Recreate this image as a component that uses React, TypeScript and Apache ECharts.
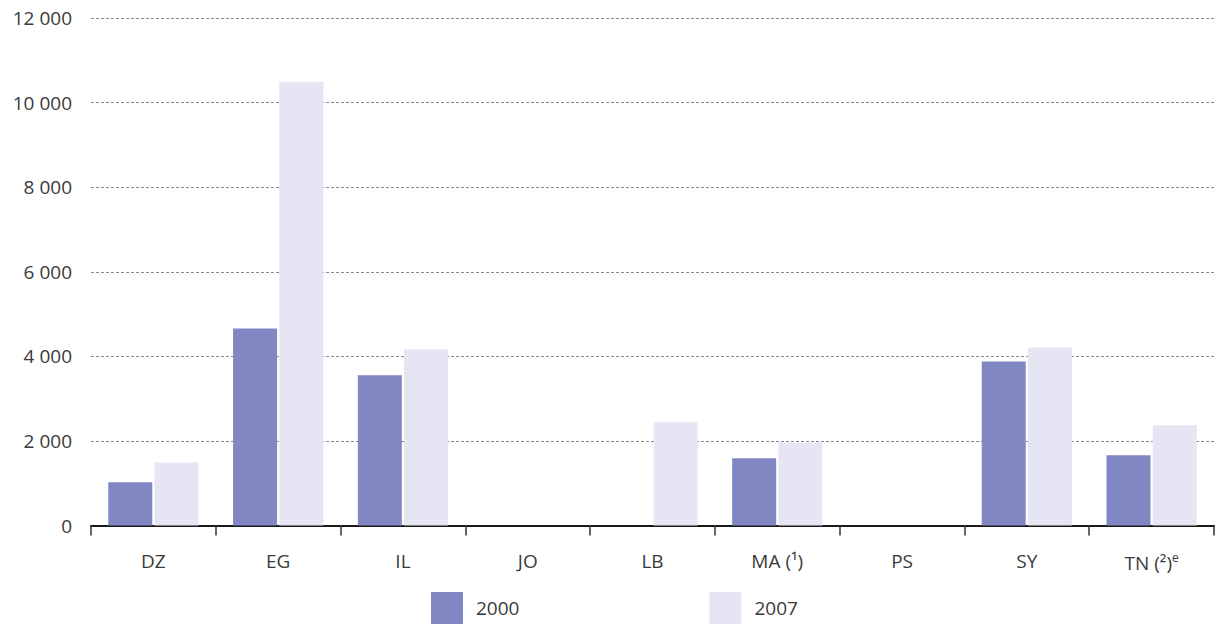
import React, { useEffect, useRef } from "react";
import * as echarts from "echarts";

const categories = ["DZ", "EG", "IL", "JO", "LB", "MA", "PS", "SY", "TN"];
const categoryLabels = ["DZ", "EG", "IL", "JO", "LB", "MA (¹)", "PS", "SY", "TN (²){s|e}"];
const values2000: (number | null)[] = [1020, 4660, 3550, null, null, 1590, null, 3880, 1660];
const values2007: (number | null)[] = [1490, 10490, 4170, null, 2440, 1960, null, 4210, 2370];
const seriesNames = ["2000", "2007"];
const yTicks = { min: 0, max: 12000, interval: 2000 };

const FONT = "'Open Sans', 'Noto Sans', sans-serif";
const TEXT = "#3a3a3a";

export default function App() {
  const ref = useRef<HTMLDivElement>(null);
  useEffect(() => {
    document.body.style.margin = "0";
    if (!ref.current) return;
    const chart = echarts.init(ref.current, undefined, { renderer: "svg" });
    const labelMap: Record<string, string> = {};
    categories.forEach((c, i) => (labelMap[c] = categoryLabels[i]));
    chart.setOption({
      animation: false,
      backgroundColor: "#ffffff",
      grid: { left: 91, right: 5, top: 18, bottom: 98.5, containLabel: false },
      legend: {
        data: seriesNames,
        left: 431,
        top: 592,
        padding: 0,
        itemWidth: 32,
        itemHeight: 32,
        itemGap: 190,
        icon: "rect",
        textStyle: { fontFamily: FONT, fontSize: 19, color: TEXT, padding: [0, 0, 0, 8] },
      },
      xAxis: {
        type: "category",
        data: categories,
        axisLine: { show: true, lineStyle: { color: "#1a1a1a", width: 2 } },
        axisTick: { show: true, length: 10, lineStyle: { color: "#333", width: 1.5 } },
        axisLabel: {
          fontFamily: FONT,
          fontSize: 19,
          color: TEXT,
          margin: 26,
          formatter: (v: string) => labelMap[v] ?? v,
          rich: {
            s: { fontFamily: FONT, fontSize: 12, color: TEXT, verticalAlign: "top", padding: [0, 0, 10, 0] },
          },
        },
        splitLine: { show: false },
      },
      yAxis: {
        type: "value",
        min: yTicks.min,
        max: yTicks.max,
        interval: yTicks.interval,
        axisLine: { show: false },
        axisTick: { show: false },
        axisLabel: {
          fontFamily: FONT,
          fontSize: 19,
          color: TEXT,
          margin: 19,
          formatter: (v: number) => String(v).replace(/\B(?=(\d{3})+(?!\d))/g, " "),
        },
        splitLine: { show: true, lineStyle: { color: "#8a8a8a", width: 1, type: [3, 2] } },
      },
      series: [
        {
          name: seriesNames[0],
          type: "bar",
          data: values2000,
          barWidth: 44,
          barGap: "5%",
          itemStyle: { color: "#8087c3" },
        },
        {
          name: seriesNames[1],
          type: "bar",
          data: values2007,
          barWidth: 44,
          barGap: "5%",
          itemStyle: { color: "#e5e5f3" },
        },
      ],
    });
    return () => chart.dispose();
  }, []);
  return (
    <div
      ref={ref}
      style={{ position: "fixed", left: 0, top: 0, width: 1219, height: 624 }}
    />
  );
}
